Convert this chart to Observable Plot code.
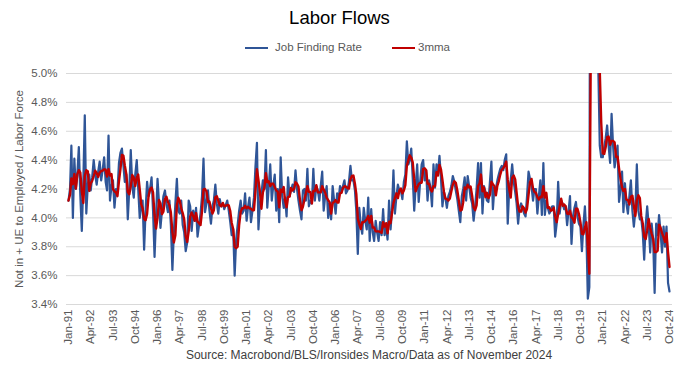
<!DOCTYPE html>
<html>
<head>
<meta charset="utf-8">
<script src="https://cdn.jsdelivr.net/npm/d3@7"></script>
<script src="https://cdn.jsdelivr.net/npm/@observablehq/plot@0.6"></script>
<style>
  body { margin: 0; background: #fff; font-family: "Liberation Sans", Arial, sans-serif; }
  #wrap { position: relative; width: 679px; height: 367px; overflow: hidden; }
  #chart { position: absolute; left: 0; top: 0; }
  .t { position: absolute; white-space: nowrap; }
  #title { left: 0; width: 679px; top: 7px; text-align: center; font-size: 18.5px; color: #000; }
  .leg { font-size: 11.5px; color: #595959; top: 40px; line-height: 14px; }
  .sw { position: absolute; height: 2.5px; top: 46.5px; width: 23px; }
  #source { left: 66px; width: 606px; top: 348px; text-align: center; font-size: 12px; color: #404040; line-height: 14px; }
</style>
</head>
<body>
<div id="wrap">
  <div id="chart"></div>
  <div class="t" id="title">Labor Flows</div>
  <div class="sw" id="sw1"></div><div class="t leg" style="left:275px">Job Finding Rate</div>
  <div class="sw" id="sw2"></div><div class="t leg" style="left:418px">3mma</div>
  <div class="t" id="source">Source: Macrobond/BLS/Ironsides Macro/Data as of November 2024</div>
</div>
<script>
// ---- Data (monthly, Jan-1991 .. Oct-2024) ----
const startYear = 1991;
const startMonth = 0; // January
const seriesNames = ["Job Finding Rate", "3mma"];
const yTicks = [3.4, 3.6, 3.8, 4.0, 4.2, 4.4, 4.6, 4.8, 5.0];
const tickEveryMonths = 15;
const yLabel = "Not in + UE to Employed / Labor Force";
const jobFindingRate = [
  4.12, 4.20, 4.50, 4.00, 4.41, 4.20, 4.30, 4.49, 4.15, 3.91, 4.25, 4.71, // 1991
  4.03, 4.23, 4.30, 4.19, 4.28, 4.40, 4.30, 4.23, 4.32, 4.39, 4.26, 4.33, // 1992
  4.42, 4.25, 4.19, 4.57, 4.12, 4.22, 4.26, 4.07, 4.20, 4.18, 4.38, 4.45, // 1993
  4.48, 4.36, 4.25, 4.30, 3.99, 4.20, 4.47, 4.22, 4.14, 4.30, 4.40, 4.20, // 1994
  4.00, 4.08, 4.12, 3.78, 4.05, 4.25, 4.15, 4.20, 4.28, 4.05, 3.73, 4.00, // 1995
  4.27, 4.10, 3.93, 4.05, 4.15, 4.19, 4.10, 4.04, 4.12, 3.95, 3.64, 3.90, // 1996
  4.10, 4.27, 4.05, 4.03, 4.12, 3.95, 3.90, 3.77, 3.83, 4.12, 4.08, 3.91, // 1997
  4.05, 3.98, 4.07, 3.87, 3.95, 4.03, 4.15, 4.41, 4.04, 4.10, 4.19, 4.05, // 1998
  3.96, 4.08, 4.12, 4.23, 4.10, 4.03, 4.13, 4.08, 4.10, 4.06, 4.09, 4.12, // 1999
  4.05, 3.97, 3.88, 3.92, 3.60, 3.85, 3.95, 4.05, 4.12, 4.03, 4.05, 4.17, // 2000
  3.98, 4.08, 4.14, 3.97, 4.05, 4.14, 4.35, 4.52, 3.92, 4.10, 4.17, 4.26, // 2001
  4.20, 4.47, 4.07, 4.22, 4.37, 4.12, 4.22, 4.30, 4.05, 4.20, 3.97, 4.42, // 2002
  4.15, 4.07, 4.14, 4.01, 4.28, 4.15, 4.19, 4.23, 4.18, 4.33, 4.20, 4.12, // 2003
  4.05, 3.99, 4.19, 4.20, 4.12, 4.34, 4.08, 4.12, 4.10, 4.34, 4.12, 4.22, // 2004
  4.19, 4.12, 4.22, 4.32, 4.05, 4.15, 4.22, 4.00, 4.10, 3.99, 4.22, 4.12, // 2005
  4.03, 4.17, 4.12, 4.22, 4.18, 4.22, 4.26, 4.17, 4.19, 4.25, 4.36, 4.26, // 2006
  4.26, 4.19, 4.05, 3.75, 4.07, 3.95, 3.89, 4.07, 3.98, 3.92, 4.14, 3.84, // 2007
  4.06, 3.90, 3.84, 3.98, 3.90, 3.84, 3.97, 3.88, 4.06, 3.88, 3.95, 3.85, // 2008
  4.12, 3.92, 4.05, 4.33, 4.03, 4.15, 4.23, 4.19, 4.19, 4.13, 4.25, 4.30, // 2009
  4.53, 4.37, 4.40, 4.48, 4.28, 4.05, 4.22, 4.37, 4.11, 4.25, 4.37, 4.40, // 2010
  4.26, 4.33, 4.12, 4.26, 4.21, 4.08, 4.37, 4.21, 4.37, 4.30, 4.43, 4.28, // 2011
  4.08, 4.18, 4.14, 4.07, 4.15, 4.18, 4.22, 4.29, 4.25, 4.19, 4.13, 4.05, // 2012
  3.97, 4.15, 4.20, 4.28, 4.12, 4.29, 4.22, 4.14, 4.10, 3.98, 4.08, 4.20, // 2013
  4.38, 4.14, 4.38, 4.03, 4.22, 4.18, 4.12, 4.11, 4.25, 4.39, 4.06, 4.21, // 2014
  4.20, 4.26, 4.30, 4.34, 4.36, 4.33, 4.40, 4.44, 3.96, 4.20, 4.26, 4.37, // 2015
  4.25, 4.18, 4.10, 3.96, 4.07, 4.10, 4.07, 4.03, 4.01, 4.15, 4.32, 4.27, // 2016
  4.22, 4.12, 4.20, 4.20, 4.03, 4.15, 4.26, 4.02, 4.38, 4.02, 4.12, 4.07, // 2017
  4.03, 4.05, 4.08, 4.08, 3.87, 3.96, 4.25, 4.03, 4.12, 4.10, 4.06, 4.08, // 2018
  3.95, 4.05, 4.15, 3.82, 4.01, 4.07, 4.11, 4.01, 3.96, 3.94, 3.77, 3.95, // 2019
  4.08, 3.88, 3.44, 3.52, 8.60, 8.00, 6.90, 6.20, 5.50, 5.05, 4.50, 4.42, // 2020
  4.42, 4.49, 4.55, 4.64, 4.50, 4.38, 4.72, 4.50, 4.35, 4.42, 4.50, 4.11, // 2021
  4.20, 4.32, 4.04, 4.24, 4.10, 4.03, 4.15, 4.26, 4.05, 3.94, 4.05, 4.37, // 2022
  4.05, 3.99, 4.00, 3.90, 3.71, 3.95, 4.08, 3.95, 3.76, 3.96, 3.85, 3.48, // 2023
  3.96, 3.88, 4.02, 3.90, 3.76, 3.94, 3.80, 3.94, 3.55, 3.49              // 2024 (Jan-Oct)
];
const colors = { "Job Finding Rate": "#2f5597", "3mma": "#c00000" };

// ---- Build table ----
const data = jobFindingRate.map((v, i) => ({
  date: new Date(Date.UTC(startYear, startMonth + i, 1)),
  value: v
}));
const tickDates = data.filter((d, i) => i % tickEveryMonths === 0).map(d => d.date);
const fmt = d3.utcFormat("%b-%y");

document.getElementById("sw1").style.cssText += `left:245px;background:${colors["Job Finding Rate"]}`;
document.getElementById("sw2").style.cssText += `left:392px;background:${colors["3mma"]}`;

const chart = Plot.plot({
  width: 679,
  height: 367,
  marginTop: 73,
  marginBottom: 63,
  marginLeft: 66,
  marginRight: 7,
  style: { fontFamily: "'Liberation Sans', Arial, sans-serif", fontSize: "11.5px", color: "#595959", background: "transparent" },
  x: {
    type: "utc",
    domain: [data[0].date, data[data.length - 1].date],
    insetLeft: 2,
    insetRight: 3,
    ticks: tickDates,
    tickFormat: fmt,
    tickRotate: -90,
    tickSize: 0,
    tickPadding: 5,
    label: null
  },
  y: {
    domain: [3.4, 5.0],
    ticks: yTicks,
    tickFormat: d => d.toFixed(1) + "%",
    tickSize: 0,
    tickPadding: 9,
    label: null
  },
  marks: [
    Plot.gridY(yTicks, { stroke: "#d9d9d9", strokeOpacity: 1, strokeWidth: 1 }),
    Plot.lineY(data, { x: "date", y: "value", stroke: colors["Job Finding Rate"], strokeWidth: 2.2, clip: true }),
    Plot.lineY(data, Plot.windowY({ k: 3, anchor: "end", reduce: "mean" },
      { x: "date", y: "value", stroke: colors["3mma"], strokeWidth: 2.4, clip: true })),
    Plot.text([yLabel], { frameAnchor: "left", textAnchor: "middle", dx: -47, rotate: -90, fontSize: 11.5, fill: "#595959" })
  ]
});
document.getElementById("chart").appendChild(chart);
</script>
</body>
</html>
